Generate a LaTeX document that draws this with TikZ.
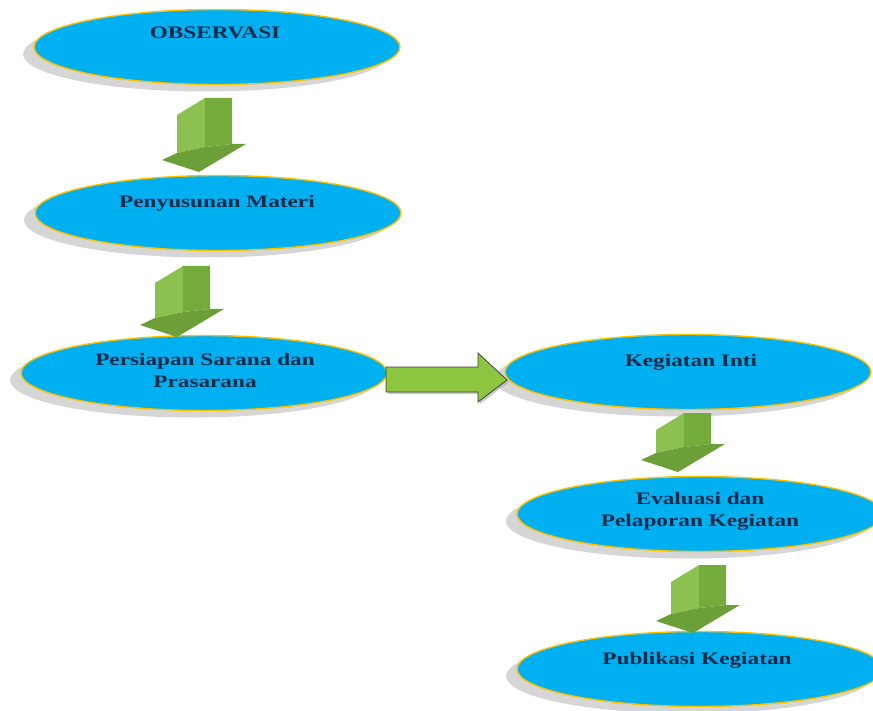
\documentclass[tikz,border=0pt]{standalone}
\usepackage{fontspec}
\newfontfamily\lbl[FakeStretch=1.32]{Liberation Serif}
\usetikzlibrary{shapes.geometric,shadows}
\definecolor{ellfill}{HTML}{00B0F0}
\definecolor{ellborder}{HTML}{FFC000}
\definecolor{ellshadow}{HTML}{D6D6D6}
\definecolor{txtcol}{HTML}{0F2A4A}
\definecolor{glight}{HTML}{8CC152}
\definecolor{gdark}{HTML}{74AC3C}
\definecolor{ghead}{HTML}{6C9F38}
\definecolor{gflat}{HTML}{8DC63F}
\newcommand\greenarrow[3]{%
\begin{scope}[shift={(#1,#2)}]
\fill[glight] (-22,-#3+17) -- (6,-#3) -- (6,-25) -- (-22,-19) -- cycle;
\fill[gdark] (6,-#3) -- (33,-#3) -- (33,-28) -- (6,-25) -- cycle;
\fill[ghead] (-37,-12) -- (-22,-19) -- (6,-25) -- (33,-28) -- (47,-28) -- (0,0) -- cycle;
\end{scope}}
\tikzset{
  ell/.style={ellipse, draw=ellborder, line width=1.4pt, fill=ellfill,
    minimum width=366pt, minimum height=75pt, inner sep=0pt,
    drop shadow={shadow xshift=-11pt, shadow yshift=-7pt, fill=ellshadow, opacity=1}},
  lab/.style={font=\lbl\bfseries\fontsize{17.6}{22}\selectfont, text=txtcol, align=center, inner sep=0pt}
}
\begin{document}
\begin{tikzpicture}[x=1pt,y=-1pt]
\useasboundingbox (0,0) rectangle (873,711);
\begin{scope}
\clip (0,0) rectangle (873,711);
\node[ell] (e1) at (217,47) {};
\node[ell] (e2) at (218,213) {};
\node[ell] (e3) at (204,373) {};
\node[ell] (e4) at (688,372) {};
\node[ell] (e5) at (700,514) {};
\node[ell] (e6) at (700,669) {};
\end{scope}
\node[lab] (t1) at (215,33) {OBSERVASI};
\node[lab] (t2) at (217,203) {Penyusunan Materi};
\node[lab] (t3) at (205,370) {Persiapan Sarana dan\\Prasarana};
\node[lab] (t4) at (691,362) {Kegiatan Inti};
\node[lab] (t5) at (700,511) {Evaluasi dan\\Pelaporan Kegiatan};
\node[lab] (t6) at (697,660) {Publikasi Kegiatan};
\greenarrow{199}{172}{74}
\greenarrow{177}{337}{71}
\greenarrow{678}{472}{59}
\greenarrow{693}{633}{68}
\coordinate (hs) at (e3.east);
\coordinate (he) at (e4.west);
\fill[gray!70, opacity=0.6] (388,369) -- (480,369) -- (480,355) -- (509,382) -- (480,404) -- (480,394) -- (388,394) -- cycle;
\draw[fill=gflat, draw=black!75, line width=0.8pt] (386,367) -- (478,367) -- (478,353) -- (507,380) -- (478,402) -- (478,392) -- (386,392) -- cycle;
\end{tikzpicture}
\end{document}
